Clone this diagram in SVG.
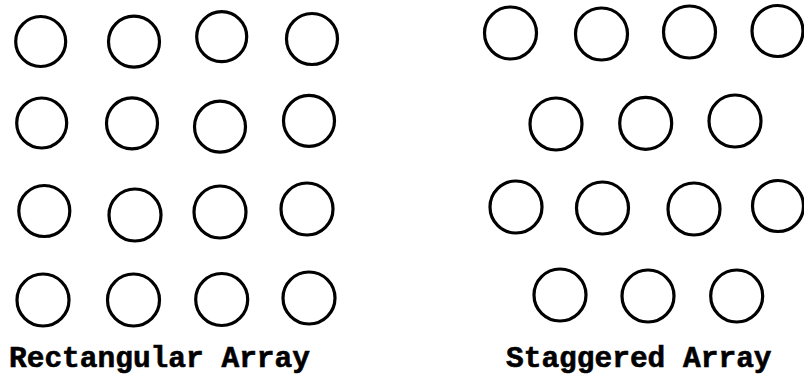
<svg xmlns="http://www.w3.org/2000/svg" width="804" height="377" viewBox="0 0 804 377">
<style>
.c{fill:none;stroke:#000;stroke-width:3.2}
.t{font-family:"Liberation Mono","Courier New",monospace;font-weight:bold;font-size:29.5px;fill:#000;stroke:#000;stroke-width:0.6}
</style>
<rect width="804" height="377" fill="#fff"/>
<g id="rectangular-array">
<circle class="c" cx="40.7" cy="41.5" r="25"/>
<circle class="c" cx="134" cy="41.7" r="25.5"/>
<circle class="c" cx="221.7" cy="36.7" r="25"/>
<circle class="c" cx="312" cy="39" r="25.5"/>
<circle class="c" cx="41.7" cy="123" r="25"/>
<circle class="c" cx="132" cy="123.3" r="25.5"/>
<circle class="c" cx="220" cy="126.7" r="25.5"/>
<circle class="c" cx="309" cy="120.8" r="25.5"/>
<circle class="c" cx="44.3" cy="211" r="25.5"/>
<circle class="c" cx="135" cy="215" r="26"/>
<circle class="c" cx="220" cy="212" r="26"/>
<circle class="c" cx="307" cy="209" r="26"/>
<circle class="c" cx="43" cy="300" r="26"/>
<circle class="c" cx="133.5" cy="300" r="26"/>
<circle class="c" cx="221.7" cy="299.5" r="26"/>
<circle class="c" cx="309" cy="298" r="26"/>
<text class="t" x="9" y="367">Rectangular Array</text>
</g>
<g id="staggered-array">
<circle class="c" cx="510.5" cy="33" r="26"/>
<circle class="c" cx="601.5" cy="34" r="26"/>
<circle class="c" cx="689.5" cy="32" r="26"/>
<circle class="c" cx="777.5" cy="31" r="25.5"/>
<circle class="c" cx="556" cy="124" r="26"/>
<circle class="c" cx="645.7" cy="123.3" r="26"/>
<circle class="c" cx="735" cy="121" r="26"/>
<circle class="c" cx="516" cy="207" r="26"/>
<circle class="c" cx="602.5" cy="208" r="26"/>
<circle class="c" cx="694" cy="209" r="26"/>
<circle class="c" cx="778" cy="206" r="25.5"/>
<circle class="c" cx="560" cy="295" r="26"/>
<circle class="c" cx="648" cy="296" r="26"/>
<circle class="c" cx="736.7" cy="296" r="26"/>
<text class="t" x="506" y="367">Staggered Array</text>
</g>
<g id="connectors"/>
</svg>
